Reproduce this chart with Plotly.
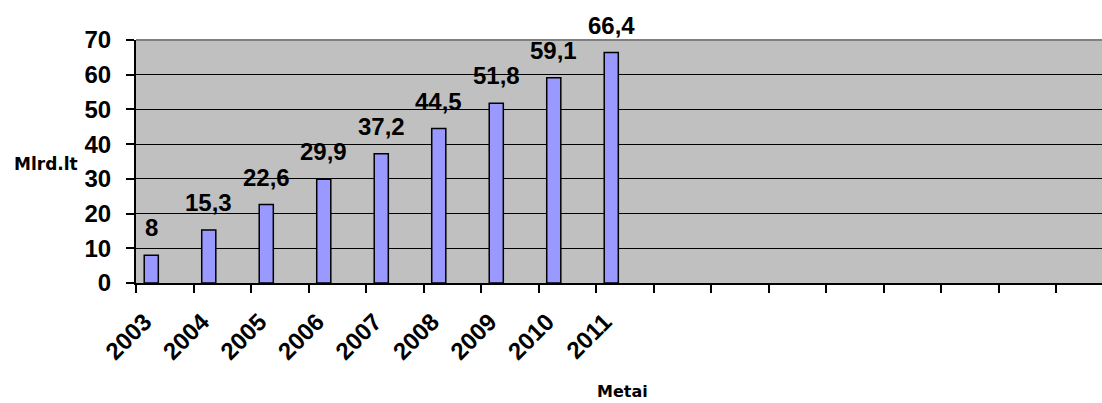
import plotly.graph_objects as go

# Annual values, billion litas
years = ["2003", "2004", "2005", "2006", "2007", "2008", "2009", "2010", "2011"]
values = [8, 15.3, 22.6, 29.9, 37.2, 44.5, 51.8, 59.1, 66.4]
y_ticks = [0, 10, 20, 30, 40, 50, 60, 70]
n_slots = 17  # category slots along the axis (only the first nine hold data)

idx = list(range(len(years)))
bar_offset = -0.357
bar_width = 0.245
bar_centers = [i + bar_offset + bar_width / 2 for i in idx]
boundaries = [i - 0.5 for i in range(n_slots + 1)]
x_range = [-0.5, 16.3]

FONT = "Liberation Sans"

fig = go.Figure()
fig.add_trace(go.Bar(
    x=idx, y=values,
    offset=bar_offset, width=bar_width,
    marker=dict(color="#9999FF", line=dict(color="#000000", width=1.5)),
    showlegend=False, hoverinfo="skip",
))
# carrier trace for the label axis
fig.add_trace(go.Scatter(x=[], y=[], xaxis="x2", yaxis="y",
                         showlegend=False, hoverinfo="skip"))

# value labels above bars
for xc, v in zip(bar_centers, values):
    txt = (f"{v:g}").replace(".", ",")
    fig.add_annotation(x=xc, y=v, text=f"<b>{txt}</b>", showarrow=False,
                       xref="x", yref="y", yanchor="bottom", yshift=12,
                       font=dict(family=FONT, size=24, color="#000000"))

fig.add_annotation(text="<b>Mlrd.lt</b>", x=(46 - 136) / 966, y=0.49,
                   xref="paper", yref="paper", showarrow=False,
                   xanchor="center", yanchor="middle",
                   font=dict(family="DejaVu Sans", size=17, color="#000000"))

fig.add_annotation(text="<b>Metai</b>", x=(622 - 136) / 966, y=(283 - 391) / 243,
                   xref="paper", yref="paper", showarrow=False,
                   xanchor="center", yanchor="middle",
                   font=dict(family="DejaVu Sans", size=16, color="#000000"))

# grey top border of the plot area
fig.add_shape(type="line", xref="paper", yref="paper", x0=0, x1=1, y0=1, y1=1,
              line=dict(color="#808080", width=2))

fig.update_layout(
    width=1102, height=403,
    margin=dict(l=136, r=0, t=40, b=120),
    paper_bgcolor="#FFFFFF",
    plot_bgcolor="#C0C0C0",
    font=dict(family=FONT, color="#000000"),
    xaxis=dict(
        range=x_range, tickmode="array", tickvals=boundaries,
        ticktext=["" for _ in boundaries], ticks="outside", ticklen=8,
        tickwidth=1.5, tickcolor="#000000",
        showgrid=False, zeroline=False,
        showline=True, linecolor="#000000", linewidth=2,
    ),
    xaxis2=dict(
        overlaying="x", matches="x", anchor="y", side="bottom",
        range=x_range, tickmode="array", tickvals=idx, ticktext=years,
        ticks="", tickangle=-45, showgrid=False, zeroline=False, showline=False,
        tickfont=dict(family=FONT, size=24, color="#000000", weight="bold"),
        ticklabelshift=-20, ticklabelstandoff=19,
    ),
    yaxis=dict(
        range=[0, 70], tickmode="array", tickvals=y_ticks,
        ticks="outside", ticklen=8, tickwidth=1.5, tickcolor="#000000",
        showgrid=True, gridcolor="#000000", gridwidth=1.3,
        zeroline=False, showline=True, linecolor="#000000", linewidth=2,
        tickfont=dict(family=FONT, size=24, color="#000000", weight="bold"),
        ticklabelstandoff=10,
    ),
)

fig.write_html("out.html")
